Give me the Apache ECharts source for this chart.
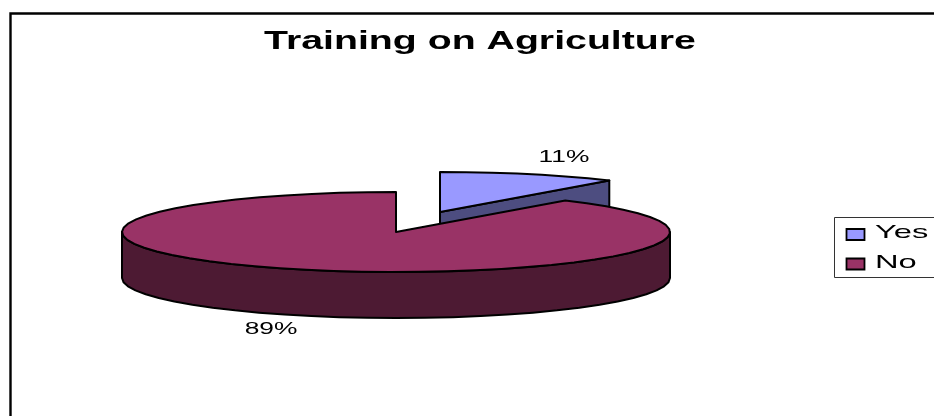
<!DOCTYPE html>
<html><head><meta charset="utf-8">
<style>html,body{margin:0;padding:0;background:#fff}#c{width:934px;height:416px}</style>
<script src="https://cdn.jsdelivr.net/npm/echarts@6/dist/echarts.min.js"></script>
</head><body><div id="c"></div>
<script>
const chartTitle = 'Training on Agriculture';
const categories = ['Yes', 'No'];
const seriesValues = [10.6, 89.4];
const topColors = ['#9999FF', '#993366'];
const sideColors = ['#4D4D80', '#4D1A33'];

const FONT = '"Liberation Sans", Arial, sans-serif';
const RX = 274, RY = 40, DEPTH = 46;
const centers = [[440, 212], [396, 232]];
const labelPos = [[564, 157], [271, 329]];
const total = seriesValues.reduce((a, b) => a + b, 0);

function rim(c, deg) {
  const t = deg * Math.PI / 180;
  return [c[0] + RX * Math.sin(t), c[1] - RY * Math.cos(t)];
}
function arc(c, a0, a1) {
  const pts = [];
  const n = Math.max(2, Math.ceil(Math.abs(a1 - a0) / 6));
  for (let i = 0; i <= n; i++) pts.push(rim(c, a0 + (a1 - a0) * i / n));
  return pts;
}
function wideText(text, x, y, size, weight, align, stretch) {
  return { type: 'text', x, y, scaleX: stretch, silent: true, z: 10,
    style: { text, x: 0, y: 0, fill: '#000', font: `${weight} ${size}px ${FONT}`, align: align, verticalAlign: 'middle' } };
}
function poly(points, fill) {
  return { type: 'polygon', shape: { points }, style: { fill, stroke: '#000', lineWidth: 2, lineJoin: 'round' } };
}
function renderSlice(params, api) {
  const i = params.dataIndex;
  const v = api.value(0);
  const before = seriesValues.slice(0, i).reduce((a, b) => a + b, 0);
  const a0 = before / total * 360, a1 = (before + v) / total * 360;
  const c = centers[i];
  const down = p => [p[0], p[1] + DEPTH];
  const children = [];
  // outer wall: the part of the rim that faces the viewer
  const f0 = Math.max(a0, 90), f1 = Math.min(a1, 270);
  if (f1 > f0) {
    const wall = arc(c, f0, f1);
    children.push(poly(wall.concat(wall.slice().reverse().map(down)), sideColors[i]));
  }
  // cut face at the end of the slice, when it faces the viewer
  if (a1 < 90) {
    const e = rim(c, a1);
    children.push(poly([c, e, down(e), down(c)], sideColors[i]));
  }
  children.push(poly([c].concat(arc(c, a0, a1)), topColors[i]));
  children.push(wideText(Math.round(v / total * 100) + '%', labelPos[i][0], labelPos[i][1], 17, 'normal', 'center', 1.55));
  return { type: 'group', children };
}
const legendItems = categories.flatMap((name, i) => {
  const y = 229 + i * 29.5;
  return [
    { type: 'rect', shape: { x: 846.5, y: y, width: 18, height: 11 }, style: { fill: topColors[i], stroke: '#000', lineWidth: 1.8 } },
    wideText(name, 875, y + 4, 19, 'normal', 'left', 1.72)
  ];
});
const chart = echarts.init(document.getElementById('c'), null, { renderer: 'canvas' });
chart.setOption({
  animation: false,
  backgroundColor: '#fff',
  graphic: [
    { type: 'rect', z: 0, shape: { x: 10.5, y: 13.5, width: 1000, height: 500 }, style: { fill: '#fff', stroke: '#000', lineWidth: 2.4 } },
    { type: 'rect', z: 5, shape: { x: 834.5, y: 217.5, width: 200, height: 60 }, style: { fill: '#fff', stroke: '#333', lineWidth: 1 } },
    Object.assign(wideText(chartTitle, 480, 42, 26, 'bold', 'center', 1.51), { z: 10 }),
    ...legendItems.map(e => Object.assign(e, { z: 10 }))
  ],
  series: [{
    type: 'custom',
    coordinateSystem: 'none',
    renderItem: renderSlice,
    silent: true,
    z: 2,
    data: categories.map((name, i) => ({ name, value: [seriesValues[i]] }))
  }]
});
</script></body></html>
